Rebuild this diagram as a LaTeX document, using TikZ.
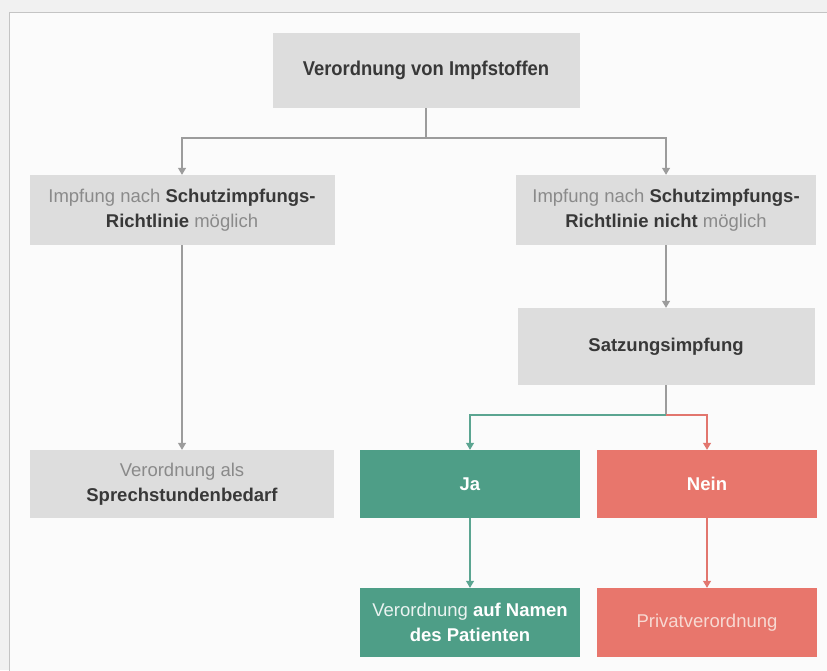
\documentclass[tikz,border=0pt]{standalone}
\usepackage{fontspec}
\setmainfont{Liberation Sans}
\newfontfamily\condfont[FakeStretch=0.92]{Liberation Sans}
\usetikzlibrary{arrows.meta}
\definecolor{bggray}{HTML}{F1F1F1}
\definecolor{framegray}{HTML}{C4C4C4}
\definecolor{innerbg}{HTML}{FBFBFB}
\definecolor{boxgray}{HTML}{DDDDDD}
\definecolor{txtdark}{HTML}{383838}
\definecolor{txtlight}{HTML}{8A8A8A}
\definecolor{jagreen}{HTML}{4E9E87}
\definecolor{neinred}{HTML}{E8766C}
\definecolor{linegray}{HTML}{9C9C9C}
\definecolor{linegreen}{HTML}{5BA591}
\definecolor{linered}{HTML}{E2766E}
\definecolor{privtxt}{HTML}{F7D9D2}
\tikzset{
  box/.style={rectangle, inner sep=0pt, align=center, font=\fontsize{18.5}{25.5}\selectfont},
  graybox/.style={box, fill=boxgray, text=txtlight},
  greenbox/.style={box, fill=jagreen, text=white},
  redbox/.style={box, fill=neinred, text=white},
  conn/.style={draw=linegray, line width=1.2pt, -{Triangle[length=7pt,width=8pt]}},
  plainconn/.style={draw=linegray, line width=1.2pt},
  gconn/.style={draw=linegreen, line width=1.2pt, -{Triangle[length=7pt,width=8pt]}},
  rconn/.style={draw=linered, line width=1.2pt, -{Triangle[length=7pt,width=8pt]}},
}
\newcommand{\dk}[1]{\textcolor{txtdark}{\textbf{#1}}}
\begin{document}
\begin{tikzpicture}[x=1pt,y=-1pt]
  \useasboundingbox (0,0) rectangle (827,670);
  \fill[bggray] (0,0) rectangle (827,670);
  \filldraw[fill=innerbg, draw=framegray, line width=1pt] (9,12) rectangle (830,673);

  \node[graybox, minimum width=307pt, minimum height=75pt] (top) at (426,70.5)
    {\condfont\fontsize{20}{25}\selectfont\dk{Verordnung von Impfstoffen}};
  \node[graybox, minimum width=305pt, minimum height=70pt] (L) at (182,210)
    {Impfung nach \dk{Schutzimpfungs-}\\\dk{Richtlinie} möglich};
  \node[graybox, minimum width=300pt, minimum height=70pt] (R) at (666,210)
    {Impfung nach \dk{Schutzimpfungs-}\\\dk{Richtlinie nicht} möglich};
  \node[graybox, minimum width=297pt, minimum height=77pt] (S) at (666,346.5)
    {\dk{Satzungsimpfung}};
  \node[graybox, minimum width=304pt, minimum height=68pt] (LB) at (182,484)
    {Verordnung als\\\dk{Sprechstundenbedarf}};
  \node[greenbox, minimum width=220pt, minimum height=68pt] (Ja) at (470,484)
    {\textbf{Ja}};
  \node[redbox, minimum width=220pt, minimum height=68pt] (Nein) at (707,484)
    {\textbf{Nein}};
  \node[greenbox, minimum width=220pt, minimum height=69pt] (JaB) at (470,622.5)
    {\textcolor{white!88!jagreen}{Verordnung} \textbf{auf Namen}\\\textbf{des Patienten}};
  \node[redbox, minimum width=220pt, minimum height=69pt, text=privtxt] (NeinB) at (707,622.5)
    {Privatverordnung};

  \coordinate (j1) at (top.south |- 0,138);
  \coordinate (j2) at (S.south |- 0,415);
  \draw[plainconn] (top.south) -- (j1);
  \draw[conn] (j1) -| (L.north);
  \draw[conn] (j1) -| (R.north);
  \draw[conn] (L.south) -- (LB.north);
  \draw[conn] (R.south) -- (S.north);
  \draw[plainconn] (S.south) -- (j2);
  \draw[gconn] (j2) -| (Ja.north);
  \draw[rconn] (j2) -| (Nein.north);
  \draw[gconn] (Ja.south) -- (JaB.north);
  \draw[rconn] (Nein.south) -- (NeinB.north);
\end{tikzpicture}
\end{document}
